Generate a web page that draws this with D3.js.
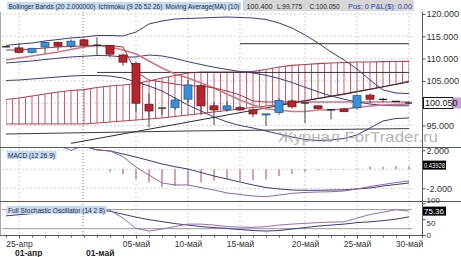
<!DOCTYPE html>
<html><head><meta charset="utf-8">
<script src="https://cdn.jsdelivr.net/npm/d3@7"></script>
<style>body{margin:0;background:#fff}svg{display:block;font-family:"Liberation Sans",Arial,sans-serif}</style>
</head><body><svg id="c" width="461" height="257"></svg>
<script>
// ---------- DATA ----------
const dates = ["2011-04-24","2011-04-25","2011-04-26","2011-04-27","2011-04-28","2011-04-29","2011-05-01","2011-05-02","2011-05-03","2011-05-04","2011-05-05","2011-05-06","2011-05-08","2011-05-09","2011-05-10","2011-05-11","2011-05-12","2011-05-13","2011-05-15","2011-05-16","2011-05-17","2011-05-18","2011-05-19","2011-05-20","2011-05-22","2011-05-23","2011-05-24","2011-05-25","2011-05-26","2011-05-27","2011-05-29","2011-05-30"];
const open  = [112.70,112.40,111.40,112.60,113.60,112.80,114.20,113.05,112.90,110.80,108.90,99.75,98.85,99.00,100.90,103.90,99.40,98.60,99.00,98.50,97.40,97.90,100.50,100.00,99.40,98.50,98.70,99.00,101.80,100.85,100.45,100.10];
const high  = [112.80,113.40,112.45,113.80,113.80,114.30,114.50,114.80,113.05,111.10,109.30,102.20,98.95,101.30,105.20,104.20,100.30,100.50,99.40,98.90,97.65,101.10,100.90,100.30,99.60,98.60,99.00,102.00,102.20,101.20,100.55,100.40];
const low   = [112.55,111.20,111.10,111.20,111.80,112.30,112.50,110.80,110.30,108.40,98.10,94.60,97.40,98.50,100.00,97.40,95.10,98.10,98.20,96.90,94.90,97.40,98.80,95.50,98.60,96.40,98.00,98.60,100.00,100.30,100.40,99.775];
const close = [112.65,111.40,112.30,113.60,112.80,113.90,113.00,113.00,111.00,109.20,100.00,98.25,98.90,100.70,104.10,99.40,98.50,99.40,98.50,97.60,97.60,100.60,99.20,100.05,98.80,98.55,98.10,101.70,100.90,100.85,100.40,100.05];

const bbUpper  = [112.94,113.27,113.50,113.95,114.28,114.62,114.84,115.18,115.18,115.07,115.96,117.76,118.43,118.88,118.99,119.10,119.22,119.33,119.22,119.10,118.77,117.98,116.86,115.29,113.50,111.48,109.69,107.67,105.20,102.96,102.29,102.13];
const bbMiddle = [109.02,109.24,109.47,109.80,110.08,110.36,110.53,110.70,110.64,110.36,110.36,110.81,110.59,110.03,109.30,108.68,108.07,107.56,107.11,106.77,106.27,105.54,104.64,103.58,102.57,101.62,100.89,100.27,99.82,99.49,99.43,99.41];
const bbLower  = [105.09,105.20,105.43,105.65,105.87,106.10,106.21,106.21,106.10,105.65,104.75,103.86,102.74,101.17,99.60,98.25,96.91,95.79,95.00,94.44,93.77,93.09,92.42,91.86,91.64,91.75,92.09,92.87,94.44,96.01,96.57,96.68];
const ma10     = [109.69,110.13,110.58,111.03,111.48,112.04,112.60,112.94,112.60,111.93,111.03,109.46,107.89,106.55,105.65,104.53,103.41,102.06,100.72,99.60,98.70,98.48,98.14,98.14,98.48,98.48,98.70,99.04,99.37,99.60,99.71,99.82];
const tenkan   = [111.93,111.93,112.15,112.38,112.60,112.71,112.83,112.94,112.94,112.60,107.00,105.20,104.75,104.30,103.86,103.86,103.41,102.74,101.84,100.49,100.27,100.27,100.27,100.27,100.27,100.27,100.27,100.27,100.27,100.27,100.27,100.27];
const kijun    = [null,null,null,null,null,null,null,106.90,106.90,106.90,106.90,106.90,106.90,106.90,106.90,106.90,106.90,106.90,106.90,106.90,106.90,106.90,106.90,106.90,106.90,106.90,106.90,106.90,106.90,106.90,106.90,106.90];
const senkouA  = [100.83,101.17,101.61,102.06,102.51,102.85,103.03,103.52,103.86,104.08,104.42,104.98,105.65,106.21,106.77,107.00,107.00,107.00,107.00,107.15,107.56,108.12,108.50,108.68,108.86,109.01,109.13,109.24,109.24,109.30,109.35,109.39];
const senkouB  = [95.34,95.34,95.34,95.34,95.34,95.34,95.34,95.56,95.78,96.01,96.23,96.46,96.68,97.02,97.35,97.69,98.03,98.36,98.70,99.04,99.37,99.71,100.16,100.61,101.05,101.50,101.95,102.51,103.07,103.63,104.30,104.98];

const trendDates = ["2011-04-29","2011-05-30"];
const trendValues = [91.00,104.75];
const supportDates = ["2011-04-24","2011-05-10","2011-05-18","2011-05-30"];
const supportValues = [93.09,93.77,94.00,94.30];
const resistDates = ["2011-05-15","2011-05-30"];
const resistValues = [113.34,113.34];

const macdLine   = [2.80,2.80,2.75,2.70,2.50,2.00,2.50,2.03,1.93,1.33,0.24,-0.60,-1.44,-1.65,-1.65,-1.92,-2.18,-2.49,-2.65,-2.81,-2.88,-2.71,-2.53,-2.44,-2.39,-2.36,-2.28,-2.07,-1.81,-1.60,-1.39,-1.23];
const macdSignal = [2.90,2.85,2.80,2.75,2.65,2.55,2.40,2.05,1.93,1.61,1.29,0.93,0.56,0.27,0.03,-0.34,-0.71,-1.02,-1.34,-1.65,-1.92,-2.07,-2.18,-2.21,-2.21,-2.18,-2.16,-2.07,-1.97,-1.76,-1.60,-1.44];
const macdHist   = [0,0,0,0,0,0,0,0,-0.25,-0.50,-1.05,-1.40,-1.90,-1.75,-1.65,-1.40,-1.20,-1.05,-1.20,-1.15,-1.05,-0.70,-0.50,-0.25,-0.12,-0.08,-0.05,0.05,0.30,0.28,0.35,0.30];

const stochK = [68.8,71.9,75.0,78.1,79.7,81.3,82.8,83.4,78.1,53.1,21.0,12.5,18.8,26.6,34.4,34.4,31.3,26.6,25.0,24.1,26.6,31.3,34.4,36.6,39.1,40.6,41.6,53.1,64.7,71.9,79.7,75.36];
const stochD = [60.3,64.1,67.2,70.3,73.4,76.6,78.1,78.1,75.0,65.6,56.3,48.4,42.2,35.9,31.3,26.6,23.4,20.9,17.2,14.1,12.5,14.1,18.8,23.4,28.1,31.3,34.4,39.1,41.6,45.3,50.0,57.2];
const stochLevels = [20,80];

const priceTicks = [95,100,105,110,115,120];
const macdTicks = [-2,2];
const stochTicks = [0,50,100];
const tickDates  = ["2011-04-25","2011-05-05","2011-05-10","2011-05-15","2011-05-20","2011-05-25","2011-05-30"];
const tickLabels = ["25-апр","05-май","10-май","15-май","20-май","25-май","30-май"];
const monthDates  = ["2011-04-24","2011-05-01"];
const monthLabels = ["01-апр","01-май"];
const lastPrice = 100.05, lastMacd = 0.43928, lastStoch = 75.36;
const headerLabels = ["Bollinger Bands (20 2.000000)","Ichimoku (9 26 52 26)","Moving Average(MA) (10)"];
const headerQuote = ["100.400","L:99.775","C:100.050"];
const headerPos = "Pos: 0 P&L($): 0.00";

// ---------- LAYOUT ----------
const svg = d3.select("#c");
const plotL = 2, plotR = 412, axisX = 422;
const mainT = 12, mainB = 147, macdT = 147, macdB = 201, stT = 201, stB = 235;
const x = d3.scalePoint().domain(dates).range([6, 409]);
const yP = d3.scaleLinear().domain([95, 120]).range([125.5, 14]);
const yM = d3.scaleLinear().domain([-2, 2]).range([188.3, 150.3]);
const yS = d3.scaleLinear().domain([0, 100]).range([235, 203.3]);
const FONT = '"Liberation Sans",Arial,sans-serif';

const defs = svg.append("defs");
function clip(id, y0, y1) {
  defs.append("clipPath").attr("id", id).append("rect")
    .attr("x", plotL).attr("y", y0).attr("width", plotR - plotL).attr("height", y1 - y0);
}
clip("cm", mainT, mainB); clip("cd", macdT + 1, macdB); clip("cs", stT + 0.5, stB);
const pat = defs.append("pattern").attr("id", "hatch").attr("patternUnits", "userSpaceOnUse")
  .attr("x", x(dates[0]) - 0.5).attr("y", 0).attr("width", 6.5).attr("height", 20);
pat.append("line").attr("x1", 0.5).attr("x2", 0.5).attr("y1", 0).attr("y2", 20)
  .attr("stroke", "#c65a6a").attr("stroke-width", 1);

// ---------- GRID ----------
const grid = svg.append("g");
grid.selectAll(".vg").data(tickDates).join("line")
  .attr("x1", d => x(d)).attr("x2", d => x(d)).attr("y1", mainT).attr("y2", stB)
  .attr("stroke", "#cfcfcf").attr("stroke-dasharray", "2,2");
grid.append("line").attr("x1", x("2011-05-01") - 1).attr("x2", x("2011-05-01") - 1)
  .attr("y1", mainT).attr("y2", stB).attr("stroke", "#777").attr("stroke-dasharray", "1,2");
grid.selectAll(".hg").data(priceTicks).join("line")
  .attr("x1", plotL).attr("x2", plotR).attr("y1", d => yP(d)).attr("y2", d => yP(d))
  .attr("stroke", "#d4d4d4").attr("stroke-dasharray", "2,2");
grid.selectAll(".hm").data([-2, 0, 2]).join("line")
  .attr("x1", plotL).attr("x2", plotR).attr("y1", d => yM(d)).attr("y2", d => yM(d))
  .attr("stroke", "#d4d4d4").attr("stroke-dasharray", "2,2");
grid.selectAll(".hs").data(stochLevels).join("line")
  .attr("x1", plotL).attr("x2", plotR).attr("y1", d => yS(d)).attr("y2", d => yS(d))
  .attr("stroke", "#9a9a9a");

// ---------- MAIN PANEL ----------
const gm = svg.append("g").attr("clip-path", "url(#cm)");
const lineOf = (arr, y) => d3.line().defined(d => d != null).x((d, i) => x(dates[i])).y(d => y(d))(arr);
const cloud = d3.area().x((d, i) => x(dates[i])).y0((d, i) => yP(senkouB[i])).y1(d => yP(d));
gm.append("path").attr("d", cloud(senkouA)).attr("fill", "url(#hatch)");
gm.append("path").attr("d", lineOf(senkouA, yP)).attr("fill", "none").attr("stroke", "#b8404f").attr("stroke-width", 1.2);
gm.append("path").attr("d", lineOf(senkouB, yP)).attr("fill", "none").attr("stroke", "#b8404f").attr("stroke-width", 1);

function pairLine(ds, vs, color) {
  gm.append("path").attr("d", d3.line().x(d => x(d[0])).y(d => yP(d[1]))(ds.map((d, i) => [d, vs[i]])))
    .attr("fill", "none").attr("stroke", color).attr("stroke-width", 1);
}
pairLine(trendDates, trendValues, "#2a2a2a");
pairLine(supportDates, supportValues, "#3a3a3a");
pairLine(resistDates, resistValues, "#2a2a2a");

gm.append("path").attr("d", lineOf(kijun, yP)).attr("fill", "none").attr("stroke", "#333").attr("stroke-width", 1);
[bbUpper, bbMiddle, bbLower].forEach(a =>
  gm.append("path").attr("d", lineOf(a, yP)).attr("fill", "none").attr("stroke", "#3b3b7e").attr("stroke-width", 1));
gm.append("path").attr("d", lineOf(ma10, yP)).attr("fill", "none").attr("stroke", "#cf7585").attr("stroke-width", 1.5);
gm.append("path").attr("d", lineOf(tenkan, yP)).attr("fill", "none").attr("stroke", "#b03444").attr("stroke-width", 1);

// candles
const cd = dates.map((d, i) => ({ d, o: open[i], h: high[i], l: low[i], c: close[i] }));
const cg = gm.selectAll(".cdl").data(cd).join("g");
cg.append("line").attr("x1", d => x(d.d)).attr("x2", d => x(d.d))
  .attr("y1", d => yP(d.h)).attr("y2", d => yP(d.l)).attr("stroke", "#444").attr("stroke-width", 1);
cg.filter(d => Math.abs(d.c - d.o) >= 0.12).append("rect")
  .attr("x", d => x(d.d) - 4).attr("width", 8)
  .attr("y", d => yP(Math.max(d.o, d.c))).attr("height", d => Math.max(1, yP(Math.min(d.o, d.c)) - yP(Math.max(d.o, d.c))))
  .attr("fill", d => d.c > d.o ? "#3a8fd8" : "#b3262e")
  .attr("stroke", d => d.c > d.o ? "#1f5d9c" : "#6f1519").attr("stroke-width", 0.8);
cg.filter(d => Math.abs(d.c - d.o) < 0.12).append("line")
  .attr("x1", d => x(d.d) - 4).attr("x2", d => x(d.d) + 4)
  .attr("y1", d => yP(d.c)).attr("y2", d => yP(d.c)).attr("stroke", "#222").attr("stroke-width", 1.3);

// watermark
svg.append("text").attr("x", 278).attr("y", 141.5).attr("font-size", 15).attr("font-family", FONT)
  .attr("fill", "#a4a4a4").attr("opacity", 0.8)
  .attr("textLength", 160).attr("lengthAdjust", "spacingAndGlyphs").text("Журнал ForTrader.ru");

// ---------- MACD ----------
const gd = svg.append("g").attr("clip-path", "url(#cd)");
gd.selectAll(".hb").data(macdHist).join("line")
  .attr("x1", (d, i) => x(dates[i])).attr("x2", (d, i) => x(dates[i]))
  .attr("y1", yM(0)).attr("y2", d => yM(d)).attr("stroke", "#c8607a").attr("stroke-width", 1.2);
gd.append("path").attr("d", lineOf(macdSignal, yM)).attr("fill", "none").attr("stroke", "#3b3b7e").attr("stroke-width", 1);
gd.append("path").attr("d", lineOf(macdLine, yM)).attr("fill", "none").attr("stroke", "#8a66a8").attr("stroke-width", 1);

// ---------- STOCH ----------
const gs = svg.append("g").attr("clip-path", "url(#cs)");
gs.append("path").attr("d", lineOf(stochD, yS)).attr("fill", "none").attr("stroke", "#3b3b7e").attr("stroke-width", 1);
gs.append("path").attr("d", lineOf(stochK, yS)).attr("fill", "none").attr("stroke", "#9470b0").attr("stroke-width", 1);

// ---------- FRAME ----------
const fr = svg.append("g").attr("stroke", "#5a5a5a").attr("stroke-width", 1);
fr.append("line").attr("x1", 0.5).attr("x2", 0.5).attr("y1", mainT).attr("y2", stB).attr("stroke", "#aaa");
fr.append("line").attr("x1", 0).attr("x2", 461).attr("y1", mainB + 0.5).attr("y2", mainB + 0.5);
fr.append("line").attr("x1", 0).attr("x2", 461).attr("y1", macdB + 0.5).attr("y2", macdB + 0.5);
fr.append("line").attr("x1", 0).attr("x2", axisX).attr("y1", stB + 0.5).attr("y2", stB + 0.5);
fr.append("line").attr("x1", axisX + 0.5).attr("x2", axisX + 0.5).attr("y1", mainT).attr("y2", stB + 3);

function styleAxis(g) {
  g.select(".domain").remove();
  g.attr("font-family", FONT).attr("font-size", 9);
  g.selectAll("text").attr("fill", "#333");
  g.selectAll("line").attr("stroke", "#555");
}
svg.append("g").attr("transform", `translate(${axisX + 0.5},0)`)
  .call(d3.axisRight(yP).tickValues(priceTicks).tickFormat(d => d.toFixed(3)).tickSize(3).tickPadding(1)).call(styleAxis);
svg.append("g").attr("transform", `translate(${axisX + 0.5},0)`)
  .call(d3.axisRight(yM).tickValues(macdTicks).tickFormat(d => d.toFixed(3)).tickSize(3).tickPadding(1)).call(styleAxis);
svg.append("g").attr("transform", `translate(${axisX + 0.5},0)`)
  .call(d3.axisRight(yS).tickValues(stochTicks).tickFormat(d => d).tickSize(3).tickPadding(1)).call(styleAxis)
  .call(g => {
    g.attr("font-size", 8);
    g.selectAll(".tick text").attr("dy", d => d === 100 ? "-0.05em" : d === 50 ? "0.75em" : "0.32em");
  });

// x axis
svg.append("g").attr("transform", `translate(0,${stB + 0.5})`)
  .call(d3.axisBottom(x).tickValues(dates).tickFormat("").tickSize(2).tickSizeOuter(0)).call(styleAxis);
svg.append("g").attr("transform", `translate(0,${stB + 0.5})`)
  .call(d3.axisBottom(x).tickValues(tickDates).tickFormat((d, i) => tickLabels[i]).tickSize(3).tickPadding(2).tickSizeOuter(0))
  .call(styleAxis).call(g => g.attr("font-size", 8.5));
svg.append("g").selectAll("text").data(monthDates).join("text")
  .attr("x", d => Math.max(x(d) + 2, 15)).attr("y", 256).attr("font-family", FONT).attr("font-size", 8.5)
  .attr("font-weight", "bold").attr("fill", "#222").text((d, i) => monthLabels[i]);

// value boxes
const vb = svg.append("g").attr("font-family", FONT).attr("font-size", 9);
vb.append("rect").attr("x", 423.5).attr("y", yP(lastPrice) - 5.5).attr("width", 29.5).attr("height", 11)
  .attr("fill", "#fff").attr("stroke", "#111");
vb.append("rect").attr("x", 453.5).attr("y", yP(lastPrice) - 5.5).attr("width", 8).attr("height", 11).attr("fill", "#c9a2d6");
vb.append("text").attr("x", 425).attr("y", yP(lastPrice) + 3.2).attr("fill", "#111").text(lastPrice.toFixed(3));
vb.append("rect").attr("x", 423).attr("y", yM(lastMacd) - 4.5).attr("width", 23).attr("height", 9).attr("fill", "#000");
vb.append("text").attr("x", 424).attr("y", yM(lastMacd) + 2.8).attr("fill", "#fff").attr("font-size", 8)
  .attr("textLength", 21).attr("lengthAdjust", "spacingAndGlyphs").text(lastMacd.toFixed(5));
vb.append("rect").attr("x", 423).attr("y", yS(lastStoch) - 4.5).attr("width", 23).attr("height", 9).attr("fill", "#000");
vb.append("text").attr("x", 424).attr("y", yS(lastStoch) + 2.8).attr("fill", "#fff").attr("font-size", 8)
  .attr("textLength", 20).attr("lengthAdjust", "spacingAndGlyphs").text(lastStoch.toFixed(2));

// panel labels
function tag(xp, yc, w, txt, fs) {
  svg.append("rect").attr("x", xp).attr("y", yc - 4).attr("width", w + 3).attr("height", 8).attr("fill", "#c5daf3");
  svg.append("text").attr("x", xp + 1.5).attr("y", yc + 2.5).attr("font-family", FONT).attr("font-size", fs)
    .attr("fill", "#1e2a44").attr("textLength", w).attr("lengthAdjust", "spacingAndGlyphs").text(txt);
}
tag(6.5, 155, 47, "MACD (12 26 9)", 6.5);
tag(6.5, 210, 97, "Full Stochastic Oscillator (14 2 8)", 6.5);

// header
svg.append("rect").attr("x", 243).attr("y", 0).attr("width", 171).attr("height", 11).attr("fill", "#d6d6d6");
const hx = [7, 97, 164], hw = [87, 64, 74];
headerLabels.forEach((t, i) => tag(hx[i], 6, hw[i], t, 6.5));
const qx = [246.5, 277, 309.5], qw = [26, 25, 30];
headerQuote.forEach((t, i) => svg.append("text").attr("x", qx[i]).attr("y", 8.5).attr("font-family", FONT)
  .attr("font-size", 7).attr("fill", "#222").attr("textLength", qw[i]).attr("lengthAdjust", "spacingAndGlyphs").text(t));
svg.append("text").attr("x", 348).attr("y", 8.5).attr("font-family", FONT).attr("font-size", 7)
  .attr("fill", "#2b3aa8").attr("textLength", 64).attr("lengthAdjust", "spacingAndGlyphs").text(headerPos);
</script></body></html>
